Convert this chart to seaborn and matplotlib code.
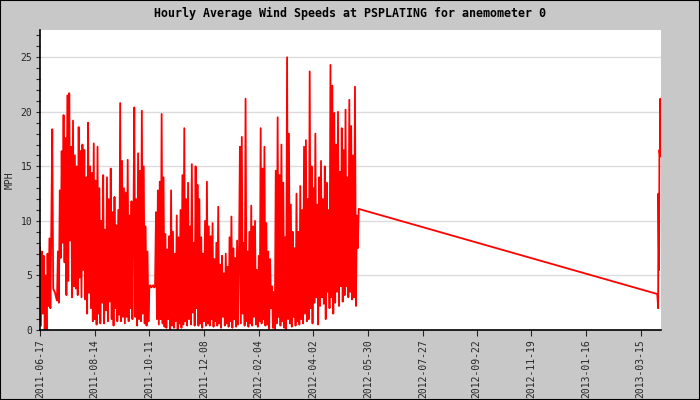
import matplotlib
matplotlib.use("Agg")
import matplotlib.pyplot as plt
from matplotlib.patches import Rectangle
from matplotlib.ticker import MultipleLocator
import seaborn as sns
import pandas as pd

# daily readings from 2011-06-17 until the logger stopped (2012-05-20)
first_day = "2011-06-17"
speeds_mph = [
    7.6, 0.4, 7.2, 1.5, 6.8, 0.0, 5.0, 0.0, 7.0, 2.2,
    8.4, 2.0, 9.4, 18.4, 3.8, 3.6, 3.4, 3.0, 2.7, 7.2,
    2.5, 12.8, 6.6, 16.4, 8.0, 19.7, 6.2, 17.6, 3.2, 21.5,
    4.5, 21.7, 8.2, 16.8, 3.0, 19.2, 4.0, 16.0, 3.8, 15.0,
    3.2, 18.6, 4.8, 16.4, 3.0, 17.0, 5.5, 16.5, 2.8, 14.0,
    1.5, 19.0, 3.4, 15.0, 2.0, 14.4, 0.8, 17.1, 1.0, 13.7,
    0.5, 16.8, 1.5, 13.0, 0.6, 10.0, 2.5, 14.2, 0.6, 9.2,
    1.8, 14.0, 0.8, 12.0, 2.6, 14.8, 1.0, 10.8, 0.4, 12.2,
    2.0, 9.6, 0.8, 11.0, 1.4, 20.8, 0.8, 15.5, 1.2, 13.0,
    0.6, 12.6, 1.2, 15.6, 0.8, 10.5, 2.0, 11.8, 1.0, 9.0,
    20.4, 1.2, 12.0, 0.4, 16.2, 1.0, 14.6, 0.8, 20.1, 1.5,
    15.0, 0.6, 9.5, 0.4, 7.2, 0.8, 4.0, 4.1, 3.9, 4.0,
    4.1, 3.9, 4.0, 10.8, 1.0, 12.8, 0.5, 13.6, 1.0, 19.8,
    0.6, 14.0, 0.3, 8.8, 0.2, 7.4, 1.0, 8.6, 0.0, 12.8,
    0.4, 9.0, 0.2, 7.0, 0.8, 10.5, 0.0, 8.5, 0.6, 11.0,
    0.2, 14.2, 0.5, 18.5, 0.8, 12.0, 0.4, 13.5, 1.0, 9.5,
    0.5, 15.2, 1.6, 8.0, 0.4, 15.0, 2.0, 13.3, 0.4, 12.0,
    0.6, 8.5, 0.2, 7.0, 0.8, 10.0, 0.4, 13.6, 0.6, 9.5,
    0.4, 8.6, 1.0, 9.8, 0.3, 6.5, 0.8, 8.0, 0.4, 11.3,
    0.6, 6.0, 0.2, 6.8, 1.2, 5.2, 0.4, 7.0, 0.6, 5.8,
    0.3, 8.5, 0.8, 10.4, 0.2, 7.5, 1.0, 6.6, 0.3, 8.2,
    0.5, 6.5, 16.8, 0.6, 17.7, 1.5, 8.0, 0.4, 21.2, 0.8,
    7.2, 0.3, 9.0, 0.6, 11.4, 0.4, 9.5, 1.2, 10.0, 0.5,
    5.5, 0.3, 6.8, 0.8, 18.5, 0.6, 14.8, 1.0, 16.8, 0.4,
    9.8, 0.5, 7.2, 0.0, 6.5, 2.0, 4.0, 0.2, 3.5, 0.0,
    14.6, 0.6, 19.5, 1.2, 14.2, 0.4, 17.0, 0.8, 13.5, 0.2,
    8.5, 0.0, 25.0, 1.0, 18.0, 0.6, 11.5, 0.3, 9.0, 1.2,
    7.5, 0.4, 12.5, 0.8, 9.0, 0.5, 13.2, 1.0, 11.0, 0.6,
    16.8, 1.5, 17.4, 0.8, 12.0, 1.0, 23.7, 2.0, 15.0, 0.6,
    13.0, 2.5, 18.0, 3.0, 11.5, 0.5, 14.0, 2.2, 15.5, 3.0,
    12.0, 2.4, 15.0, 1.0, 13.5, 3.5, 11.0, 2.0, 24.3, 3.0,
    22.4, 1.5, 19.9, 2.5, 17.0, 3.5, 20.0, 2.2, 14.5, 4.0,
    18.5, 2.6, 16.5, 3.2, 20.2, 4.0, 14.0, 3.0, 21.1, 3.5,
    18.7, 2.8, 16.0, 3.0, 22.3, 2.2, 10.5, 7.5, 11.1,
]

# readings after the logger came back
tail_times = [
    "2013-04-01 14:00", "2013-04-02 12:00", "2013-04-02 18:00",
    "2013-04-03 12:00", "2013-04-03 20:00", "2013-04-04 12:00",
    "2013-04-04 20:00", "2013-04-05 02:00",
]
tail_mph = [3.3, 2.0, 12.5, 5.5, 16.5, 15.9, 21.2, 16.0]

tick_dates = [
    "2011-06-17", "2011-08-14", "2011-10-11", "2011-12-08", "2012-02-04",
    "2012-04-02", "2012-05-30", "2012-07-27", "2012-09-22", "2012-11-19",
    "2013-01-16", "2013-03-15",
]

times = list(pd.date_range(first_day, periods=len(speeds_mph), freq="D"))
times += list(pd.to_datetime(tail_times))
df = pd.DataFrame({"time": times, "mph": speeds_mph + tail_mph})

sns.set_style("white")
plt.rcParams["font.family"] = ["DejaVu Sans Mono", "DejaVu Sans"]

bg = "#c8c8c8"
fig = plt.figure(figsize=(7, 4), dpi=100, facecolor=bg)
ax = fig.add_axes([40 / 700, 70 / 400, 620.7 / 700, 300 / 400])
ax.set_facecolor("white")

ax.yaxis.grid(True, color="#dcdcdc", linewidth=1)
ax.set_axisbelow(True)

sns.lineplot(data=df, x="time", y="mph", color="red", linewidth=1.3,
             estimator=None, ax=ax)

ax.set_xlim(pd.Timestamp("2011-06-17"), pd.Timestamp("2013-04-05 05:00"))
ax.set_ylim(0, 27.5)

ticks = pd.to_datetime(tick_dates)
ax.set_xticks(ticks)
ax.set_xticklabels(tick_dates, rotation=90, fontsize=7)
ax.yaxis.set_major_locator(MultipleLocator(5))
ax.yaxis.set_minor_locator(MultipleLocator(1))
ax.tick_params(axis="y", which="both", direction="out", length=3, width=0.8,
               labelsize=7, pad=2.5, left=True)
ax.tick_params(axis="x", direction="out", length=4, width=0.8, pad=2.5,
               bottom=True)

for side in ["top", "right"]:
    ax.spines[side].set_visible(False)
for side in ["left", "bottom"]:
    ax.spines[side].set_color("black")
    ax.spines[side].set_linewidth(1.2)

ax.set_xlabel("")
ax.set_ylabel("MPH", fontsize=7, labelpad=4)

fig.text(0.5, 1 - 13 / 400, "Hourly Average Wind Speeds at PSPLATING for anemometer 0",
         ha="center", va="center", fontsize=8.4, color="black", fontweight="semibold")

fig.patches.append(Rectangle((0, 0), 1, 1, transform=fig.transFigure,
                             fill=False, edgecolor="black", linewidth=1.5))

fig.savefig("out.png", dpi=100, facecolor=bg)
